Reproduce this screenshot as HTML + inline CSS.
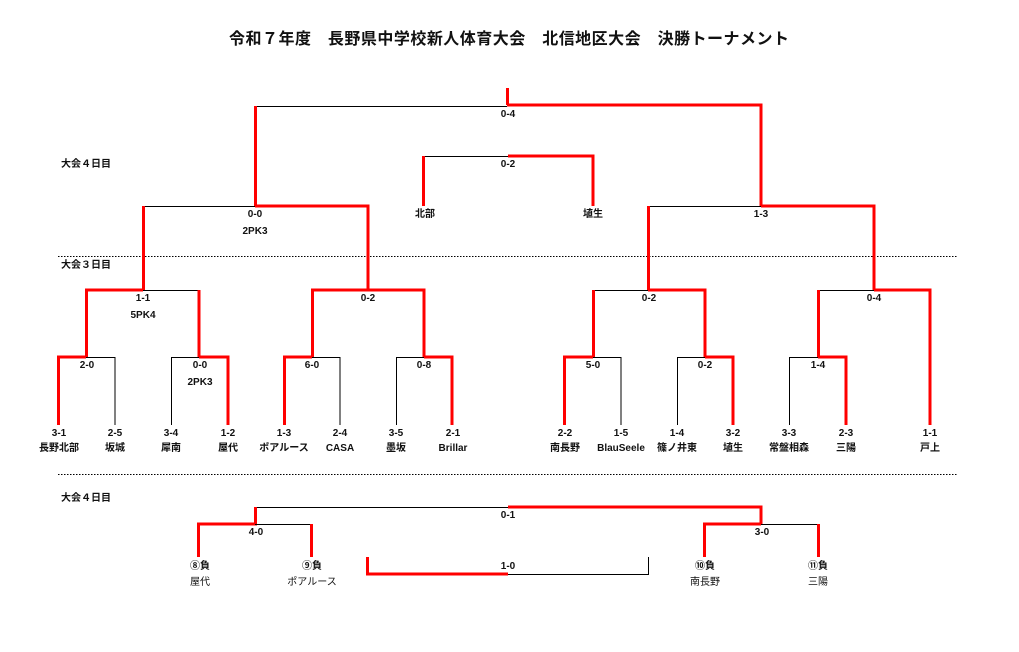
<!DOCTYPE html>
<html><head><meta charset="utf-8"><style>
html,body{margin:0;padding:0;background:#fff;}
svg{display:block;}
text{font-family:"Liberation Sans","Noto Sans CJK JP",sans-serif;font-size:10px;font-weight:bold;fill:#111;text-anchor:middle;}
.k{stroke:#000;stroke-width:1;fill:none;}
.r{stroke:#f00;stroke-width:3;fill:none;}
.d{stroke:#000;stroke-width:1;stroke-dasharray:1.5,1.5;}
.n{font-weight:normal;}
</style></head><body>
<svg width="1019" height="652" viewBox="0 0 1019 652">
<text x="509" y="44" style="font-size:16px" textLength="560">令和７年度　長野県中学校新人体育大会　北信地区大会　決勝トーナメント</text>
<line class="d" x1="58" y1="256.5" x2="957" y2="256.5"/>
<line class="d" x1="58" y1="474.5" x2="957" y2="474.5"/>
<text x="86" y="167">大会４日目</text>
<text x="86" y="268">大会３日目</text>
<text x="86" y="501">大会４日目</text>

<!-- final -->
<path class="r" d="M507.5 88V105"/>
<path class="k" d="M255 106.5H507"/>
<path class="r" d="M507 105H761V206"/>
<path class="r" d="M255.5 106V206"/>
<text x="508" y="117">0-4</text>

<!-- 3rd place -->
<path class="k" d="M423 156.5H508"/>
<path class="r" d="M423.5 156V206"/>
<path class="r" d="M508 156H593V206"/>
<text x="508" y="167">0-2</text>
<text x="425" y="217">北部</text>
<text x="593" y="217">埴生</text>

<!-- SF left -->
<path class="k" d="M143 206.5H255"/>
<path class="r" d="M255 206H368V290"/>
<path class="r" d="M143.5 206V290"/>
<text x="255" y="217">0-0</text>
<text x="255" y="234">2PK3</text>
<!-- SF right -->
<path class="k" d="M648 206.5H761"/>
<path class="r" d="M761 206H874V290"/>
<path class="r" d="M648.5 206V290"/>
<text x="761" y="217">1-3</text>

<!-- QF -->
<path class="r" d="M86.5 357V290H143"/>
<path class="k" d="M143 290.5H199"/>
<path class="r" d="M199 290V357"/>
<text x="143" y="301">1-1</text>
<text x="143" y="318">5PK4</text>

<path class="k" d="M312 290.5H368"/>
<path class="r" d="M312.5 357V290H368H424V357"/>
<text x="368" y="301">0-2</text>

<path class="k" d="M593 290.5H648"/>
<path class="r" d="M593.5 357V290"/>
<path class="r" d="M648 290H705V357"/>
<text x="649" y="301">0-2</text>

<path class="k" d="M818 290.5H874"/>
<path class="r" d="M818.5 357V290"/>
<path class="r" d="M874 290H930V425"/>
<text x="874" y="301">0-4</text>

<!-- R1 -->
<path class="r" d="M58.5 425V357H86"/>
<path class="k" d="M86 357.5H115V425"/>
<text x="87" y="368">2-0</text>

<path class="k" d="M171.5 425V357.5H199"/>
<path class="r" d="M199 357H228V425"/>
<text x="200" y="368">0-0</text>
<text x="200" y="385">2PK3</text>

<path class="r" d="M284.5 425V357H312"/>
<path class="k" d="M312 357.5H340V425"/>
<text x="312" y="368">6-0</text>

<path class="k" d="M396.5 425V357.5H424"/>
<path class="r" d="M424 357H452V425"/>
<text x="424" y="368">0-8</text>

<path class="r" d="M564.5 425V357H593"/>
<path class="k" d="M593 357.5H621V425"/>
<text x="593" y="368">5-0</text>

<path class="k" d="M677.5 425V357.5H705"/>
<path class="r" d="M705 357H733V425"/>
<text x="705" y="368">0-2</text>

<path class="k" d="M789.5 425V357.5H818"/>
<path class="r" d="M818 357H846V425"/>
<text x="818" y="368">1-4</text>

<!-- team labels -->
<g>
<text x="59" y="436">3-1</text><text x="59" y="451">長野北部</text>
<text x="115" y="436">2-5</text><text x="115" y="451">坂城</text>
<text x="171" y="436">3-4</text><text x="171" y="451">犀南</text>
<text x="228" y="436">1-2</text><text x="228" y="451">屋代</text>
<text x="284" y="436">1-3</text><text x="284" y="451">ポアルース</text>
<text x="340" y="436">2-4</text><text x="340" y="451">CASA</text>
<text x="396" y="436">3-5</text><text x="396" y="451">墨坂</text>
<text x="453" y="436">2-1</text><text x="453" y="451">Brillar</text>
<text x="565" y="436">2-2</text><text x="565" y="451">南長野</text>
<text x="621" y="436">1-5</text><text x="621" y="451">BlauSeele</text>
<text x="677" y="436">1-4</text><text x="677" y="451">篠ノ井東</text>
<text x="733" y="436">3-2</text><text x="733" y="451">埴生</text>
<text x="789" y="436">3-3</text><text x="789" y="451">常盤相森</text>
<text x="846" y="436">2-3</text><text x="846" y="451">三陽</text>
<text x="930" y="436">1-1</text><text x="930" y="451">戸上</text>
</g>

<!-- bottom -->
<path class="k" d="M255.5 524V507.5H508"/>
<path class="r" d="M508 507H761V524"/>
<path class="r" d="M255.5 507V524H198.5V557"/>
<text x="508" y="518">0-1</text>
<path class="k" d="M255 524.5H311"/>
<path class="r" d="M311.5 524V557"/>
<text x="256" y="535">4-0</text>
<path class="r" d="M761 524H704.5V557"/>
<path class="k" d="M761 524.5H818"/>
<path class="r" d="M818.5 524V557"/>
<text x="762" y="535">3-0</text>

<path class="r" d="M367.5 557V574H508"/>
<path class="k" d="M508 574.5H648.5V557"/>
<text x="508" y="569">1-0</text>

<text x="200" y="569">⑧負</text><text x="200" y="585" class="n">屋代</text>
<text x="312" y="569">⑨負</text><text x="312" y="585" class="n">ポアルース</text>
<text x="705" y="569">⑩負</text><text x="705" y="585" class="n">南長野</text>
<text x="818" y="569">⑪負</text><text x="818" y="585" class="n">三陽</text>
</svg>
</body></html>
